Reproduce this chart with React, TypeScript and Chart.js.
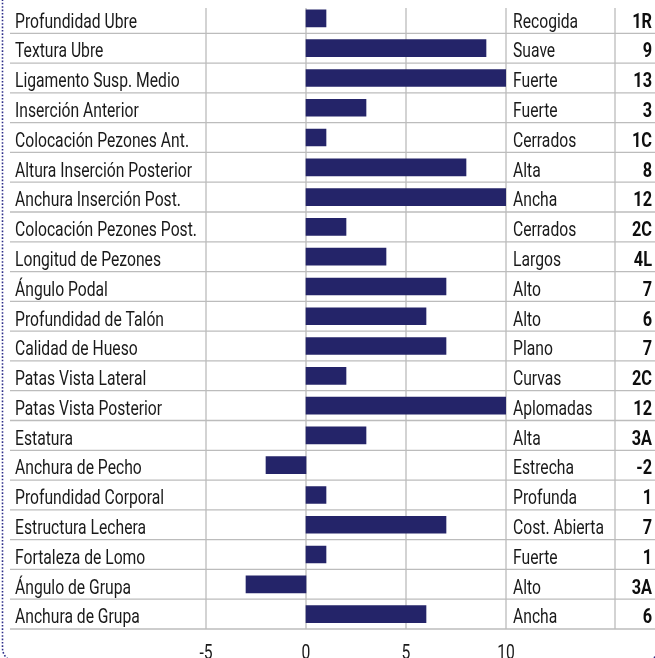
import React, { useEffect, useRef } from "react";
import { Chart, registerables } from "chart.js";

Chart.register(...registerables);

const traits = [
  "Profundidad Ubre",
  "Textura Ubre",
  "Ligamento Susp. Medio",
  "Inserción Anterior",
  "Colocación Pezones Ant.",
  "Altura Inserción Posterior",
  "Anchura Inserción Post.",
  "Colocación Pezones Post.",
  "Longitud de Pezones",
  "Ángulo Podal",
  "Profundidad de Talón",
  "Calidad de Hueso",
  "Patas Vista Lateral",
  "Patas Vista Posterior",
  "Estatura",
  "Anchura de Pecho",
  "Profundidad Corporal",
  "Estructura Lechera",
  "Fortaleza de Lomo",
  "Ángulo de Grupa",
  "Anchura de Grupa",
];

const descriptions = [
  "Recogida",
  "Suave",
  "Fuerte",
  "Fuerte",
  "Cerrados",
  "Alta",
  "Ancha",
  "Cerrados",
  "Largos",
  "Alto",
  "Alto",
  "Plano",
  "Curvas",
  "Aplomadas",
  "Alta",
  "Estrecha",
  "Profunda",
  "Cost. Abierta",
  "Fuerte",
  "Alto",
  "Ancha",
];

const scoreLabels = [
  "1R", "9", "13", "3", "1C", "8", "12", "2C", "4L", "7", "6",
  "7", "2C", "12", "3A", "-2", "1", "7", "1", "3A", "6",
];

const values = [1, 9, 13, 3, 1, 8, 12, 2, 4, 7, 6, 7, 2, 12, 3, -2, 1, 7, 1, -3, 6];

const xTicks = [-5, 0, 5, 10];

const FONT = 'Roboto, "Noto Sans", sans-serif';
const BAR_COLOR = "#242469";
const GRID_COLOR = "#bcbcbc";
const TEXT_COLOR = "#1a1a1a";

function drawText(ctx: any, text: string, x: number, y: number, align: string, font: string, sx: number, color: string) {
  ctx.save();
  ctx.font = font;
  ctx.fillStyle = color;
  ctx.textAlign = align;
  ctx.textBaseline = "alphabetic";
  ctx.translate(x, y);
  ctx.scale(sx, 1);
  ctx.fillText(text, 0, 0);
  ctx.restore();
}

const tablePlugin = {
  id: "tablePlugin",
  beforeDatasetsDraw(chart: any) {
    const { ctx, chartArea, scales } = chart;
    const x = scales.x;
    const y = scales.y;
    const half = (y.getPixelForValue(1) - y.getPixelForValue(0)) / 2;
    ctx.save();
    ctx.strokeStyle = GRID_COLOR;
    ctx.lineWidth = 1.3;
    for (let i = 0; i < traits.length; i++) {
      const yy = y.getPixelForValue(i) + half;
      ctx.beginPath();
      ctx.moveTo(10, yy);
      ctx.lineTo(chart.width, yy);
      ctx.stroke();
    }
    const xs = xTicks.map((v) => x.getPixelForValue(v));
    xs.push(615);
    xs.forEach((xx) => {
      ctx.beginPath();
      ctx.moveTo(xx, 8);
      ctx.lineTo(xx, chartArea.bottom);
      ctx.stroke();
    });
    ctx.restore();
  },
  afterDraw(chart: any) {
    const { ctx, scales } = chart;
    const x = scales.x;
    const y = scales.y;
    const regular = `20px ${FONT}`;
    const bold = `bold 20px ${FONT}`;
    ctx.save();
    ctx.font = regular;
    const sx = 122 / ctx.measureText("Profundidad Ubre").width;
    ctx.restore();
    for (let i = 0; i < traits.length; i++) {
      const yy = y.getPixelForValue(i) + 9.3;
      drawText(ctx, traits[i], 15, yy, "left", regular, sx, TEXT_COLOR);
      drawText(ctx, descriptions[i], 513, yy, "left", regular, sx, TEXT_COLOR);
      drawText(ctx, scoreLabels[i], 652, yy, "right", bold, sx * 1.04, "#0e0e0e");
    }
    xTicks.forEach((v) => {
      drawText(ctx, String(v), x.getPixelForValue(v), 658.5, "center", regular, sx, TEXT_COLOR);
    });
    // dotted frame
    ctx.save();
    ctx.strokeStyle = "#2e2e8a";
    ctx.lineWidth = 1.6;
    ctx.setLineDash([1.6, 1.8]);
    ctx.beginPath();
    const l = 2.5, t = -30, r = 658, b = 662, rad = 14;
    ctx.moveTo(l + rad, t);
    ctx.lineTo(r - rad, t);
    ctx.arcTo(r, t, r, t + rad, rad);
    ctx.lineTo(r, b - rad);
    ctx.arcTo(r, b, r - rad, b, rad);
    ctx.lineTo(l + rad, b);
    ctx.arcTo(l, b, l, b - rad, rad);
    ctx.lineTo(l, t + rad);
    ctx.arcTo(l, t, l + rad, t, rad);
    ctx.stroke();
    ctx.restore();
  },
};

export default function App() {
  const ref = useRef<HTMLCanvasElement | null>(null);
  useEffect(() => {
    if (!ref.current) return;
    const chart = new Chart(ref.current, {
      type: "bar",
      data: {
        labels: traits,
        datasets: [
          {
            data: values,
            backgroundColor: BAR_COLOR,
            borderWidth: 0,
            barThickness: 17,
          },
        ],
      },
      options: {
        indexAxis: "y",
        responsive: false,
        animation: false,
        layout: { padding: { left: 206, right: 149, top: 3.5, bottom: 0 } },
        plugins: { legend: { display: false }, tooltip: { enabled: false } },
        scales: {
          y: { display: false, offset: true },
          x: {
            min: -5,
            max: 10,
            afterFit: (scale: any) => {
              scale.height = 29;
            },
            afterBuildTicks: (scale: any) => {
              scale.ticks = xTicks.map((v) => ({ value: v }));
            },
            grid: { display: false, drawTicks: false },
            border: { display: false },
            ticks: { display: false },
          },
        },
      },
      plugins: [tablePlugin],
    });
    return () => chart.destroy();
  }, []);
  return (
    <div style={{ position: "absolute", left: 0, top: 0 }}>
      <canvas ref={ref} width={655} height={658} style={{ display: "block" }} />
    </div>
  );
}
